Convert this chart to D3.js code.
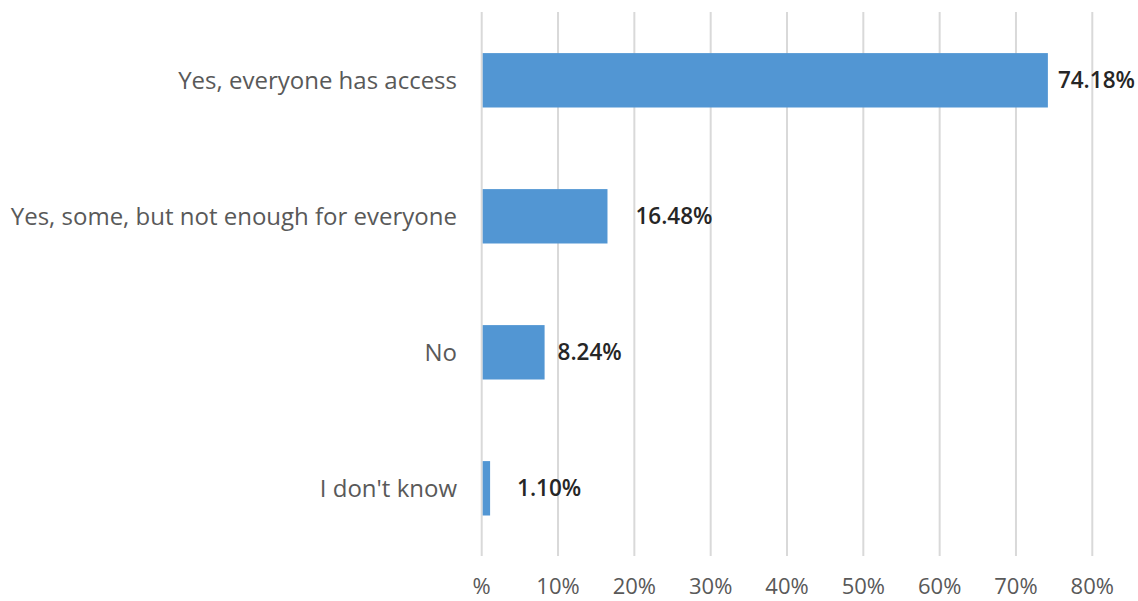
<!DOCTYPE html>
<html>
<head>
<meta charset="utf-8">
<script src="https://cdn.jsdelivr.net/npm/d3@7/dist/d3.min.js"></script>
<style>
  html, body { margin: 0; padding: 0; background: #ffffff; }
  svg { display: block; font-family: "Open Sans", "Noto Sans", sans-serif; }
</style>
</head>
<body>
<svg id="chart" width="1138" height="601"></svg>
<script>
// Survey answers and their shares (percent)
const categories = [
  "Yes, everyone has access",
  "Yes, some, but not enough for everyone",
  "No",
  "I don't know"
];
const values = [74.18, 16.48, 8.24, 1.10];
const valueLabels = ["74.18%", "16.48%", "8.24%", "1.10%"];
const tickValues = [0, 10, 20, 30, 40, 50, 60, 70, 80];
const tickLabels = ["%", "10%", "20%", "30%", "40%", "50%", "60%", "70%", "80%"];
// extra horizontal gap between each bar end and its value label
const labelGap = [10, 28, 13, 27];

const svg = d3.select("#chart");

const x = d3.scaleLinear().domain([0, 80]).range([481.7, 1092.3]);
const y = d3.scaleBand()
  .domain(categories)
  .range([12.3, 556.3])
  .paddingInner(0.6)
  .paddingOuter(0.3);

// vertical gridlines
svg.append("g")
  .selectAll("line")
  .data(tickValues)
  .join("line")
  .attr("x1", d => x(d))
  .attr("x2", d => x(d))
  .attr("y1", 12)
  .attr("y2", 556)
  .attr("stroke", "#d9d9d9")
  .attr("stroke-width", 2);

// x axis tick labels
svg.append("g")
  .selectAll("text")
  .data(tickValues)
  .join("text")
  .attr("x", d => x(d))
  .attr("y", 594)
  .attr("text-anchor", "middle")
  .attr("fill", "#595959")
  .attr("font-size", 22)
  .text((d, i) => tickLabels[i]);

// category labels
svg.append("g")
  .selectAll("text")
  .data(categories)
  .join("text")
  .attr("x", 457)
  .attr("y", d => y(d) + y.bandwidth() / 2)
  .attr("dy", "0.36em")
  .attr("text-anchor", "end")
  .attr("fill", "#595959")
  .attr("font-size", 24)
  .text(d => d);

// bars
svg.append("g")
  .selectAll("rect")
  .data(values)
  .join("rect")
  .attr("x", x(0) + 1)
  .attr("y", (d, i) => y(categories[i]))
  .attr("width", d => x(d) - x(0) - 1)
  .attr("height", y.bandwidth())
  .attr("fill", "#5296d3");

// value labels
svg.append("g")
  .selectAll("text")
  .data(values)
  .join("text")
  .attr("x", (d, i) => x(d) + labelGap[i])
  .attr("y", (d, i) => y(categories[i]) + y.bandwidth() / 2)
  .attr("dy", "0.36em")
  .attr("fill", "#262626")
  .attr("font-size", 22.5)
  .attr("font-weight", 600)
  .text((d, i) => valueLabels[i]);
</script>
</body>
</html>
